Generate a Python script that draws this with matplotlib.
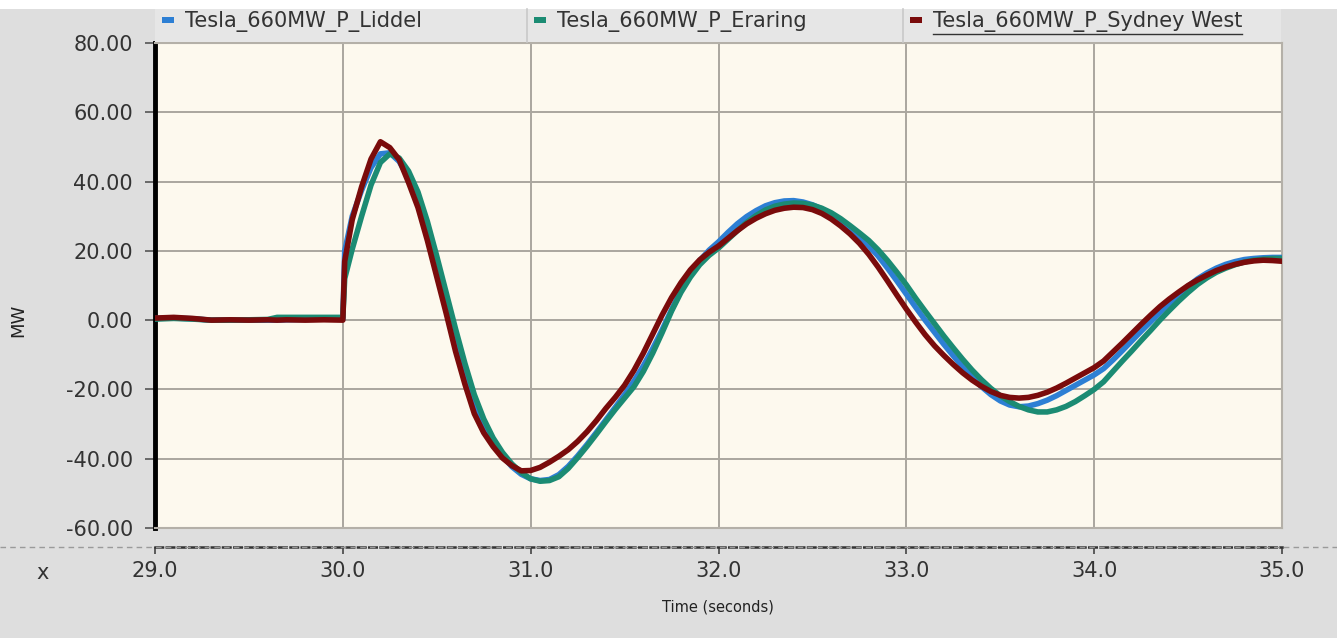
import matplotlib.pyplot as plt
from matplotlib.lines import Line2D
from matplotlib.patches import Rectangle

# Sample times (s) and active power (MW) of each machine
time_s = [29.0, 29.1, 29.2, 29.3, 29.4, 29.5, 29.6, 29.65, 29.7, 29.8, 29.9, 30.0, 30.01,
          30.05, 30.10, 30.15, 30.20, 30.25, 30.30, 30.35, 30.40, 30.45, 30.50,
          30.55, 30.60, 30.65, 30.70, 30.75, 30.80, 30.85, 30.90, 30.95, 31.00,
          31.05, 31.10, 31.15, 31.20, 31.25, 31.30, 31.35, 31.40, 31.45, 31.50,
          31.55, 31.60, 31.65, 31.70, 31.75, 31.80, 31.85, 31.90, 31.95, 32.00,
          32.05, 32.10, 32.15, 32.20, 32.25, 32.30, 32.35, 32.40, 32.45, 32.50,
          32.55, 32.60, 32.65, 32.70, 32.75, 32.80, 32.85, 32.90, 32.95, 33.00,
          33.05, 33.10, 33.15, 33.20, 33.25, 33.30, 33.35, 33.40, 33.45, 33.50,
          33.55, 33.60, 33.65, 33.70, 33.75, 33.80, 33.85, 33.90, 33.95, 34.00,
          34.05, 34.10, 34.15, 34.20, 34.25, 34.30, 34.35, 34.40, 34.45, 34.50,
          34.55, 34.60, 34.65, 34.70, 34.75, 34.80, 34.85, 34.90, 34.95, 35.00]

p_liddel = [0.5, 0.6, 0.4, 0.0, 0.0, 0.0, 0.0, 0.0, 0.1, 0.2, 0.3, 0.3, 20.0,
            30.0, 37.5, 44.0, 48.0, 48.3, 45.8, 41.0, 34.5, 26.0, 16.0,
            5.5, -5.0, -15.0, -23.5, -30.0, -35.2, -39.2, -42.3, -44.5, -45.8,
            -46.3, -46.0, -44.6, -42.2, -39.2, -35.9, -32.4, -28.8, -25.2, -21.5,
            -17.6, -13.2, -8.2, -2.8, 3.0, 8.6, 13.3, 17.2, 20.2, 22.6,
            25.3, 27.8, 29.9, 31.6, 33.0, 33.9, 34.4, 34.5, 34.1, 33.3,
            32.1, 30.5, 28.6, 26.4, 24.0, 21.4, 18.5, 15.0, 11.3, 7.5,
            3.7, 0.0, -3.5, -7.0, -10.3, -13.5, -16.5, -19.2, -21.5, -23.3,
            -24.5, -25.0, -24.8, -24.1, -23.1, -21.8, -20.3, -18.8, -17.3, -15.8,
            -14.0, -11.5, -8.8, -6.0, -3.2, -0.5, 2.2, 4.8, 7.3, 9.8,
            11.9, 13.6, 15.0, 16.1, 16.9, 17.5, 17.8, 18.0, 18.1, 18.1]

p_eraring = [0.3, 0.5, 0.3, 0.0, 0.0, 0.1, 0.2, 0.8, 0.8, 0.8, 0.8, 0.8, 12.0,
             20.5, 30.0, 39.0, 45.5, 48.0, 46.8, 43.0, 37.0, 28.5, 18.5,
             8.0, -2.5, -12.5, -21.5, -28.5, -34.0, -38.2, -41.5, -44.0, -45.8,
             -46.5, -46.3, -45.2, -42.8, -39.7, -36.4, -32.9, -29.3, -25.8, -22.5,
             -19.2, -14.8, -9.5, -3.6, 2.6, 8.0, 12.4, 16.0, 18.7, 20.8,
             23.3, 25.8, 28.2, 30.2, 31.8, 32.9, 33.5, 33.8, 33.7, 33.2,
             32.3, 31.0, 29.3, 27.3, 25.2, 23.0, 20.3, 17.2, 13.8, 10.2,
             6.3, 2.6, -1.0, -4.6, -8.0, -11.3, -14.4, -17.2, -19.7, -21.8,
             -23.5, -24.9, -25.9, -26.5, -26.5, -25.9, -24.9, -23.5, -21.8, -20.0,
             -17.8, -14.8, -11.8, -8.9, -5.9, -3.0, 0.0, 2.8, 5.5, 8.0,
             10.3, 12.2, 13.8, 15.0, 16.0, 16.8, 17.3, 17.6, 17.8, 17.8]

p_sydney_west = [0.6, 0.8, 0.5, 0.0, 0.1, 0.0, 0.1, 0.0, 0.1, 0.0, 0.1, 0.0, 17.0,
                 29.0, 38.5, 46.5, 51.5, 49.8, 46.3, 39.7, 32.5, 23.0, 12.5,
                 2.0, -9.0, -18.5, -27.0, -32.5, -36.5, -39.8, -42.0, -43.5, -43.4,
                 -42.5, -41.0, -39.3, -37.4, -35.0, -32.2, -29.0, -25.5, -22.3, -18.8,
                 -14.5, -9.5, -4.0, 1.5, 6.5, 10.8, 14.5, 17.4, 19.6, 21.4,
                 23.6, 25.8, 27.8, 29.4, 30.7, 31.7, 32.3, 32.6, 32.5, 31.9,
                 30.8, 29.2, 27.2, 24.9, 22.2, 19.0, 15.3, 11.3, 7.2, 3.2,
                 -0.6, -4.2, -7.4, -10.2, -12.8, -15.2, -17.3, -19.1, -20.6, -21.7,
                 -22.3, -22.5, -22.3, -21.7, -20.8, -19.6, -18.2, -16.7, -15.2, -13.7,
                 -11.8, -9.2, -6.6, -3.9, -1.2, 1.4, 3.9, 6.1, 8.1, 10.0,
                 11.6, 13.0, 14.3, 15.3, 16.1, 16.7, 17.1, 17.3, 17.2, 17.0]

series_names = ['Tesla_660MW_P_Liddel', 'Tesla_660MW_P_Eraring', 'Tesla_660MW_P_Sydney West']
series_colors = ['#2d7fd4', '#1b8b73', '#7a0b0b']
y_ticks = [-60, -40, -20, 0, 20, 40, 60, 80]
x_ticks = [29, 30, 31, 32, 33, 34, 35]

W, H = 1337, 638
TEXT = '#333333'


def fx(px):
    return px / W


def fy(py):
    return 1 - py / H


fig = plt.figure(figsize=(W / 100, H / 100), dpi=100, facecolor='#dedede')

# white strip along the top and the legend band
fig.add_artist(Rectangle((0, fy(9)), 1, 1 - fy(9), transform=fig.transFigure,
                         facecolor='white', edgecolor='none'))
fig.add_artist(Rectangle((fx(155), fy(42)), fx(1281) - fx(155), fy(9) - fy(42),
                         transform=fig.transFigure, facecolor='#e6e6e6', edgecolor='none'))

# main plot area
ax = fig.add_axes([fx(155), fy(528), fx(1282) - fx(155), fy(43) - fy(528)])
ax.set_facecolor('#fdf9ee')
for vals, color in zip([p_liddel, p_eraring, p_sydney_west], series_colors):
    ax.plot(time_s, vals, color=color, lw=4, solid_joinstyle='round', zorder=3)

ax.set_xlim(29, 35)
ax.set_ylim(-60, 80)
ax.set_xticks(x_ticks)
ax.set_yticks(y_ticks)
ax.set_yticklabels([f'{v:.2f}' for v in y_ticks])
ax.grid(True, color='#aaa69e', lw=1.4, zorder=1)
ax.tick_params(axis='x', bottom=False, labelbottom=False)
ax.tick_params(axis='y', direction='out', length=7, width=1.2, color='#555555',
               labelsize=15, labelcolor=TEXT, pad=9)
for side in ['top', 'right', 'bottom']:
    ax.spines[side].set_color('#b4b0a8')
    ax.spines[side].set_linewidth(1.5)
ax.spines['left'].set_color('black')
ax.spines['left'].set_linewidth(3.5)

# separate time axis underneath
fig.add_artist(Line2D([0, 1], [fy(547), fy(547)], transform=fig.transFigure,
                      color='#9a9a9a', lw=1, linestyle=(0, (4, 3))))
ax_t = fig.add_axes([fx(155), fy(547), fx(1282) - fx(155), 0.0001])
ax_t.set_facecolor('none')
ax_t.set_xlim(29, 35)
ax_t.set_xticks(x_ticks)
ax_t.set_xticklabels([f'{v:.1f}' for v in x_ticks])
ax_t.set_yticks([])
for side in ['top', 'left', 'right']:
    ax_t.spines[side].set_visible(False)
ax_t.spines['bottom'].set_color('#333333')
ax_t.spines['bottom'].set_linewidth(1.8)
ax_t.spines['bottom'].set_linestyle((0, (3, 1.5)))
ax_t.tick_params(axis='x', direction='out', length=5, width=1.2, color='#444444',
                 labelsize=15, labelcolor=TEXT, pad=5)

fig.text(fx(43), fy(573), 'x', fontsize=15, color=TEXT, ha='center', va='center')
fig.text(fx(718), fy(607), 'Time (seconds)', fontsize=10.5, color='#222222',
         ha='center', va='center')
fig.text(fx(18), fy(320), 'MW', fontsize=13, color='#222222', rotation=90,
         ha='center', va='center')

# legend cells across the top
cell_edges = [155, 527, 903, 1281]
legend_texts = []
for i, (name, color) in enumerate(zip(series_names, series_colors)):
    x0 = cell_edges[i]
    if i > 0:
        fig.add_artist(Line2D([fx(x0), fx(x0)], [fy(42), fy(9)], transform=fig.transFigure,
                              color='#c9c9c9', lw=1.2))
    fig.add_artist(Rectangle((fx(x0 + 7), fy(23)), fx(12), 6 / H, transform=fig.transFigure,
                             facecolor=color, edgecolor='none'))
    legend_texts.append(fig.text(fx(x0 + 30), fy(22), name, fontsize=15, color=TEXT,
                                 ha='left', va='center'))

# underline on the last legend entry
fig.canvas.draw()
bb = legend_texts[-1].get_window_extent(fig.canvas.get_renderer())
fig.add_artist(Line2D([bb.x0 / W, bb.x1 / W], [fy(34), fy(34)], transform=fig.transFigure,
                      color=TEXT, lw=1))

fig.savefig('out.png', dpi=100, facecolor=fig.get_facecolor())
